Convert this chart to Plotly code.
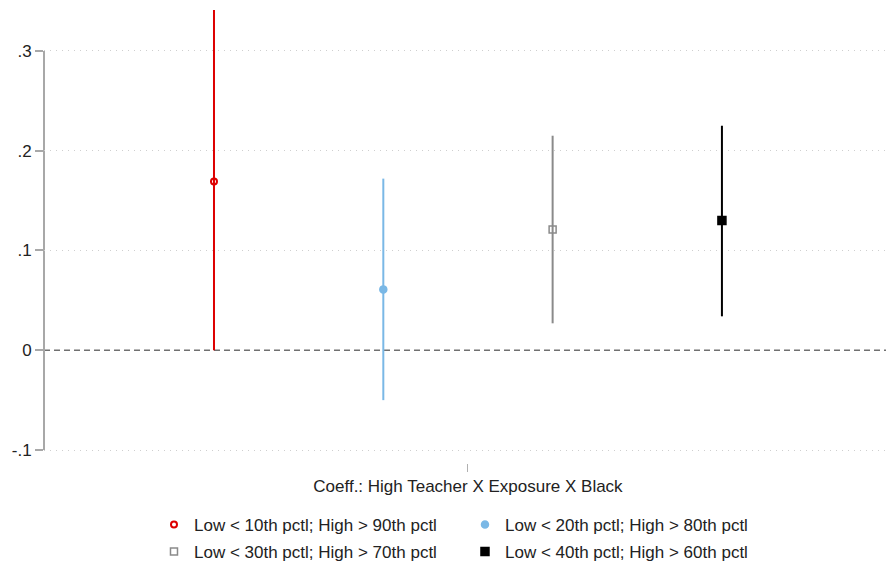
import plotly.graph_objects as go

# Estimates and 95% CI bounds for the four cut-off definitions
labels = [
    "Low < 10th pctl; High > 90th pctl",
    "Low < 20th pctl; High > 80th pctl",
    "Low < 30th pctl; High > 70th pctl",
    "Low < 40th pctl; High > 60th pctl",
]
offsets = [-1.5, -0.5, 0.5, 1.5]
coef = [0.169, 0.061, 0.121, 0.130]
ci_low = [0.000, -0.050, 0.027, 0.034]
ci_high = [0.341, 0.172, 0.215, 0.225]

colors = ["#dd0000", "#7ab8e6", "#8a8a8a", "#000000"]
symbols = ["circle-open", "circle", "square-open", "square"]
msizes = [6, 7, 7, 8]
legend_ids = ["legend", "legend", "legend2", "legend2"]

x_label = "Coeff.: High Teacher X Exposure X Black"
ytick_vals = [-0.1, 0, 0.1, 0.2, 0.3]
ytick_text = ["-.1", "0", ".1", ".2", ".3"]
grid_vals = [-0.1, 0.1, 0.2, 0.3]

FONT = "Liberation Sans, Arial, Helvetica, sans-serif"
FS = 17

fig = go.Figure()
for i in range(4):
    fig.add_trace(go.Scatter(
        x=[offsets[i]],
        y=[coef[i]],
        mode="markers",
        name=labels[i],
        legend=legend_ids[i],
        marker=dict(symbol=symbols[i], size=msizes[i], color=colors[i],
                    line=dict(color=colors[i], width=2 if i == 0 else 1.5)),
        error_y=dict(type="data", symmetric=False,
                     array=[ci_high[i] - coef[i]],
                     arrayminus=[coef[i] - ci_low[i]],
                     color=colors[i], thickness=2, width=0),
        cliponaxis=True,
    ))

# invisible trace carrying the dotted grid (all ticks except zero)
fig.add_trace(go.Scatter(x=[0], y=[0], yaxis="y2", mode="markers",
                         marker=dict(opacity=0), showlegend=False,
                         hoverinfo="skip"))

# dashed reference line at zero
fig.add_shape(type="line", xref="paper", yref="y", x0=0, x1=1, y0=0, y1=0,
              line=dict(color="#707070", width=1.3, dash="6px,4px"),
              layer="below")
# y axis spine running between the outer ticks
fig.add_shape(type="line", xref="paper", yref="y", x0=0, x1=0,
              y0=min(ytick_vals), y1=max(ytick_vals),
              line=dict(color="#a8a8a8", width=2), layer="below")

legend_common = dict(orientation="h", xanchor="left", yanchor="top",
                     xref="container", yref="container",
                     font=dict(family=FONT, size=FS, color="#222"),
                     entrywidth=266, entrywidthmode="pixels",
                     bgcolor="rgba(0,0,0,0)", itemclick=False)

yrange = [-0.113, 0.341]

fig.update_layout(
    width=886, height=565,
    margin=dict(l=44, r=0, t=10, b=102),
    plot_bgcolor="white", paper_bgcolor="white",
    font=dict(family=FONT, size=FS, color="#222"),
    showlegend=True,
    legend=dict(x=0.1738, y=0.1027, **legend_common),
    legend2=dict(x=0.1738, y=0.0549, **legend_common),
    xaxis=dict(
        range=[-2.504, 2.469],
        tickvals=[0], ticktext=[x_label],
        ticks="outside", ticklen=8, tickwidth=1, tickcolor="#b0b0b0",
        showgrid=False, zeroline=False, showline=False,
        tickfont=dict(family=FONT, size=FS, color="#222"),
        fixedrange=True,
    ),
    yaxis=dict(
        range=yrange,
        tickvals=ytick_vals, ticktext=ytick_text,
        ticks="outside", ticklen=8, tickwidth=2, tickcolor="#a8a8a8",
        showline=False, showgrid=False, zeroline=False,
        tickfont=dict(family=FONT, size=FS, color="#222"),
        fixedrange=True,
    ),
    yaxis2=dict(
        range=yrange, overlaying="y", side="left",
        tickvals=grid_vals, showticklabels=False, ticks="",
        showgrid=True, gridcolor="#cfcfcf", gridwidth=1, griddash="1px,5px",
        zeroline=False, showline=False, fixedrange=True, layer="below traces",
    ),
)

fig.write_html("out.html")
